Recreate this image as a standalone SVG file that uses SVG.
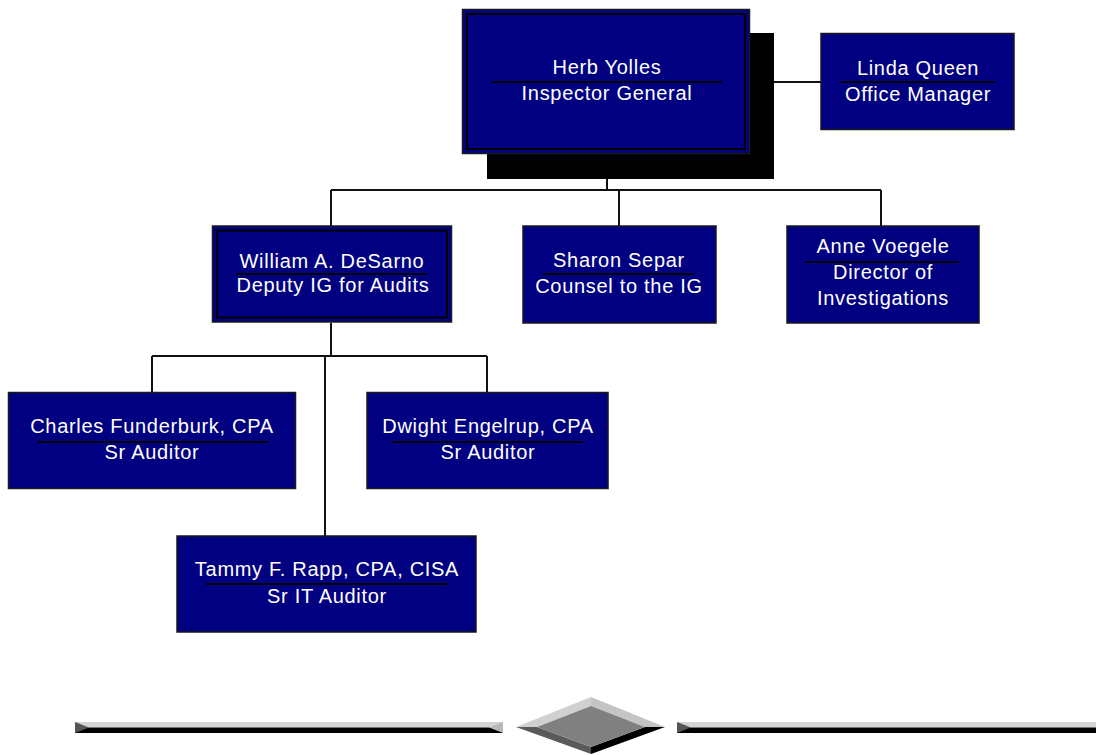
<svg xmlns="http://www.w3.org/2000/svg" width="1096" height="755" viewBox="0 0 1096 755">
<style>
.box{fill:#000080;stroke:#1a1a1a;stroke-width:1.5}
.inner{fill:none;stroke:#000;stroke-width:2}
.sep{stroke:#000;stroke-width:2}
.t{font-family:"Liberation Sans",Arial,sans-serif;font-size:20px;fill:#fff;text-anchor:middle;letter-spacing:0.7px}
.conn{fill:none;stroke:#111;stroke-width:2}
</style>
<rect width="1096" height="755" fill="#fff"/>
<g id="connectors">
<path class="conn" d="M750 82 H821"/>
<path class="conn" d="M607 179 V190 M331 190 H881 M331 190 V226 M619 190 V226 M881 190 V226"/>
<path class="conn" d="M331 323 V356 M152 356 H487 M152 356 V392 M487 356 V392 M325 356 V536"/>
</g>
<g id="node-herb">
<rect x="487" y="33" width="287" height="146" fill="#000"/>
<rect class="box" x="462.5" y="9.5" width="287" height="144"/>
<rect class="inner" x="467" y="14" width="278" height="135"/>
<text class="t" x="607" y="74">Herb Yolles</text>
<line class="sep" x1="492" y1="82" x2="722" y2="82"/>
<text class="t" x="607" y="100">Inspector General</text>
</g>
<g id="node-linda">
<rect class="box" x="821" y="33.5" width="193" height="96"/>
<text class="t" x="918" y="75">Linda Queen</text>
<line class="sep" x1="841" y1="82" x2="995" y2="82"/>
<text class="t" x="918" y="101">Office Manager</text>
</g>
<g id="node-william">
<rect class="box" x="212.5" y="226" width="239" height="96"/>
<rect class="inner" x="217" y="230.5" width="230" height="87"/>
<text class="t" x="332" y="268">William A. DeSarno</text>
<line class="sep" x1="236" y1="274" x2="427" y2="274"/>
<text class="t" x="333" y="292">Deputy IG for Audits</text>
</g>
<g id="node-sharon">
<rect class="box" x="523" y="226" width="193" height="97"/>
<text class="t" x="619" y="267">Sharon Separ</text>
<line class="sep" x1="543" y1="274" x2="694" y2="274"/>
<text class="t" x="619" y="293">Counsel to the IG</text>
</g>
<g id="node-anne">
<rect class="box" x="787" y="226" width="192" height="97"/>
<text class="t" x="883" y="253">Anne Voegele</text>
<line class="sep" x1="805" y1="262" x2="959" y2="262"/>
<text class="t" x="883" y="279">Director of</text>
<text class="t" x="883" y="305">Investigations</text>
</g>
<g id="node-charles">
<rect class="box" x="8.5" y="392.5" width="287" height="96"/>
<text class="t" x="152" y="433">Charles Funderburk, CPA</text>
<line class="sep" x1="38" y1="442" x2="268" y2="442"/>
<text class="t" x="152" y="459">Sr Auditor</text>
</g>
<g id="node-dwight">
<rect class="box" x="367" y="392.5" width="241" height="96"/>
<text class="t" x="488" y="433">Dwight Engelrup, CPA</text>
<line class="sep" x1="392" y1="442" x2="583" y2="442"/>
<text class="t" x="488" y="459">Sr Auditor</text>
</g>
<g id="node-tammy">
<rect class="box" x="177" y="536" width="299" height="96"/>
<text class="t" x="327" y="576">Tammy F. Rapp, CPA, CISA</text>
<line class="sep" x1="206" y1="584" x2="447" y2="584"/>
<text class="t" x="327" y="603">Sr IT Auditor</text>
</g>
<g id="divider">
<rect x="75" y="722" width="428" height="5.5" fill="#d4d4d4"/>
<rect x="75" y="727.5" width="428" height="5.5" fill="#000"/>
<polygon points="75,722 75,733 89,727.5" fill="#555"/>
<polygon points="503,722 503,733 489,727.5" fill="#b8b8b8"/>
<rect x="677" y="722" width="419" height="5.5" fill="#d4d4d4"/>
<rect x="677" y="727.5" width="419" height="5.5" fill="#000"/>
<polygon points="677,722 677,733 691,727.5" fill="#555"/>
<polygon points="591,697 516,727 537,727 591,706" fill="#d0d0d0"/>
<polygon points="591,697 665,727 645,727 591,706" fill="#c4c4c4"/>
<polygon points="516,727 591,754 591,747 537,727" fill="#5a5a5a"/>
<polygon points="665,727 591,754 591,747 645,727" fill="#000"/>
<polygon points="591,706 645,727 591,747 537,727" fill="#808080"/>
</g>
</svg>
